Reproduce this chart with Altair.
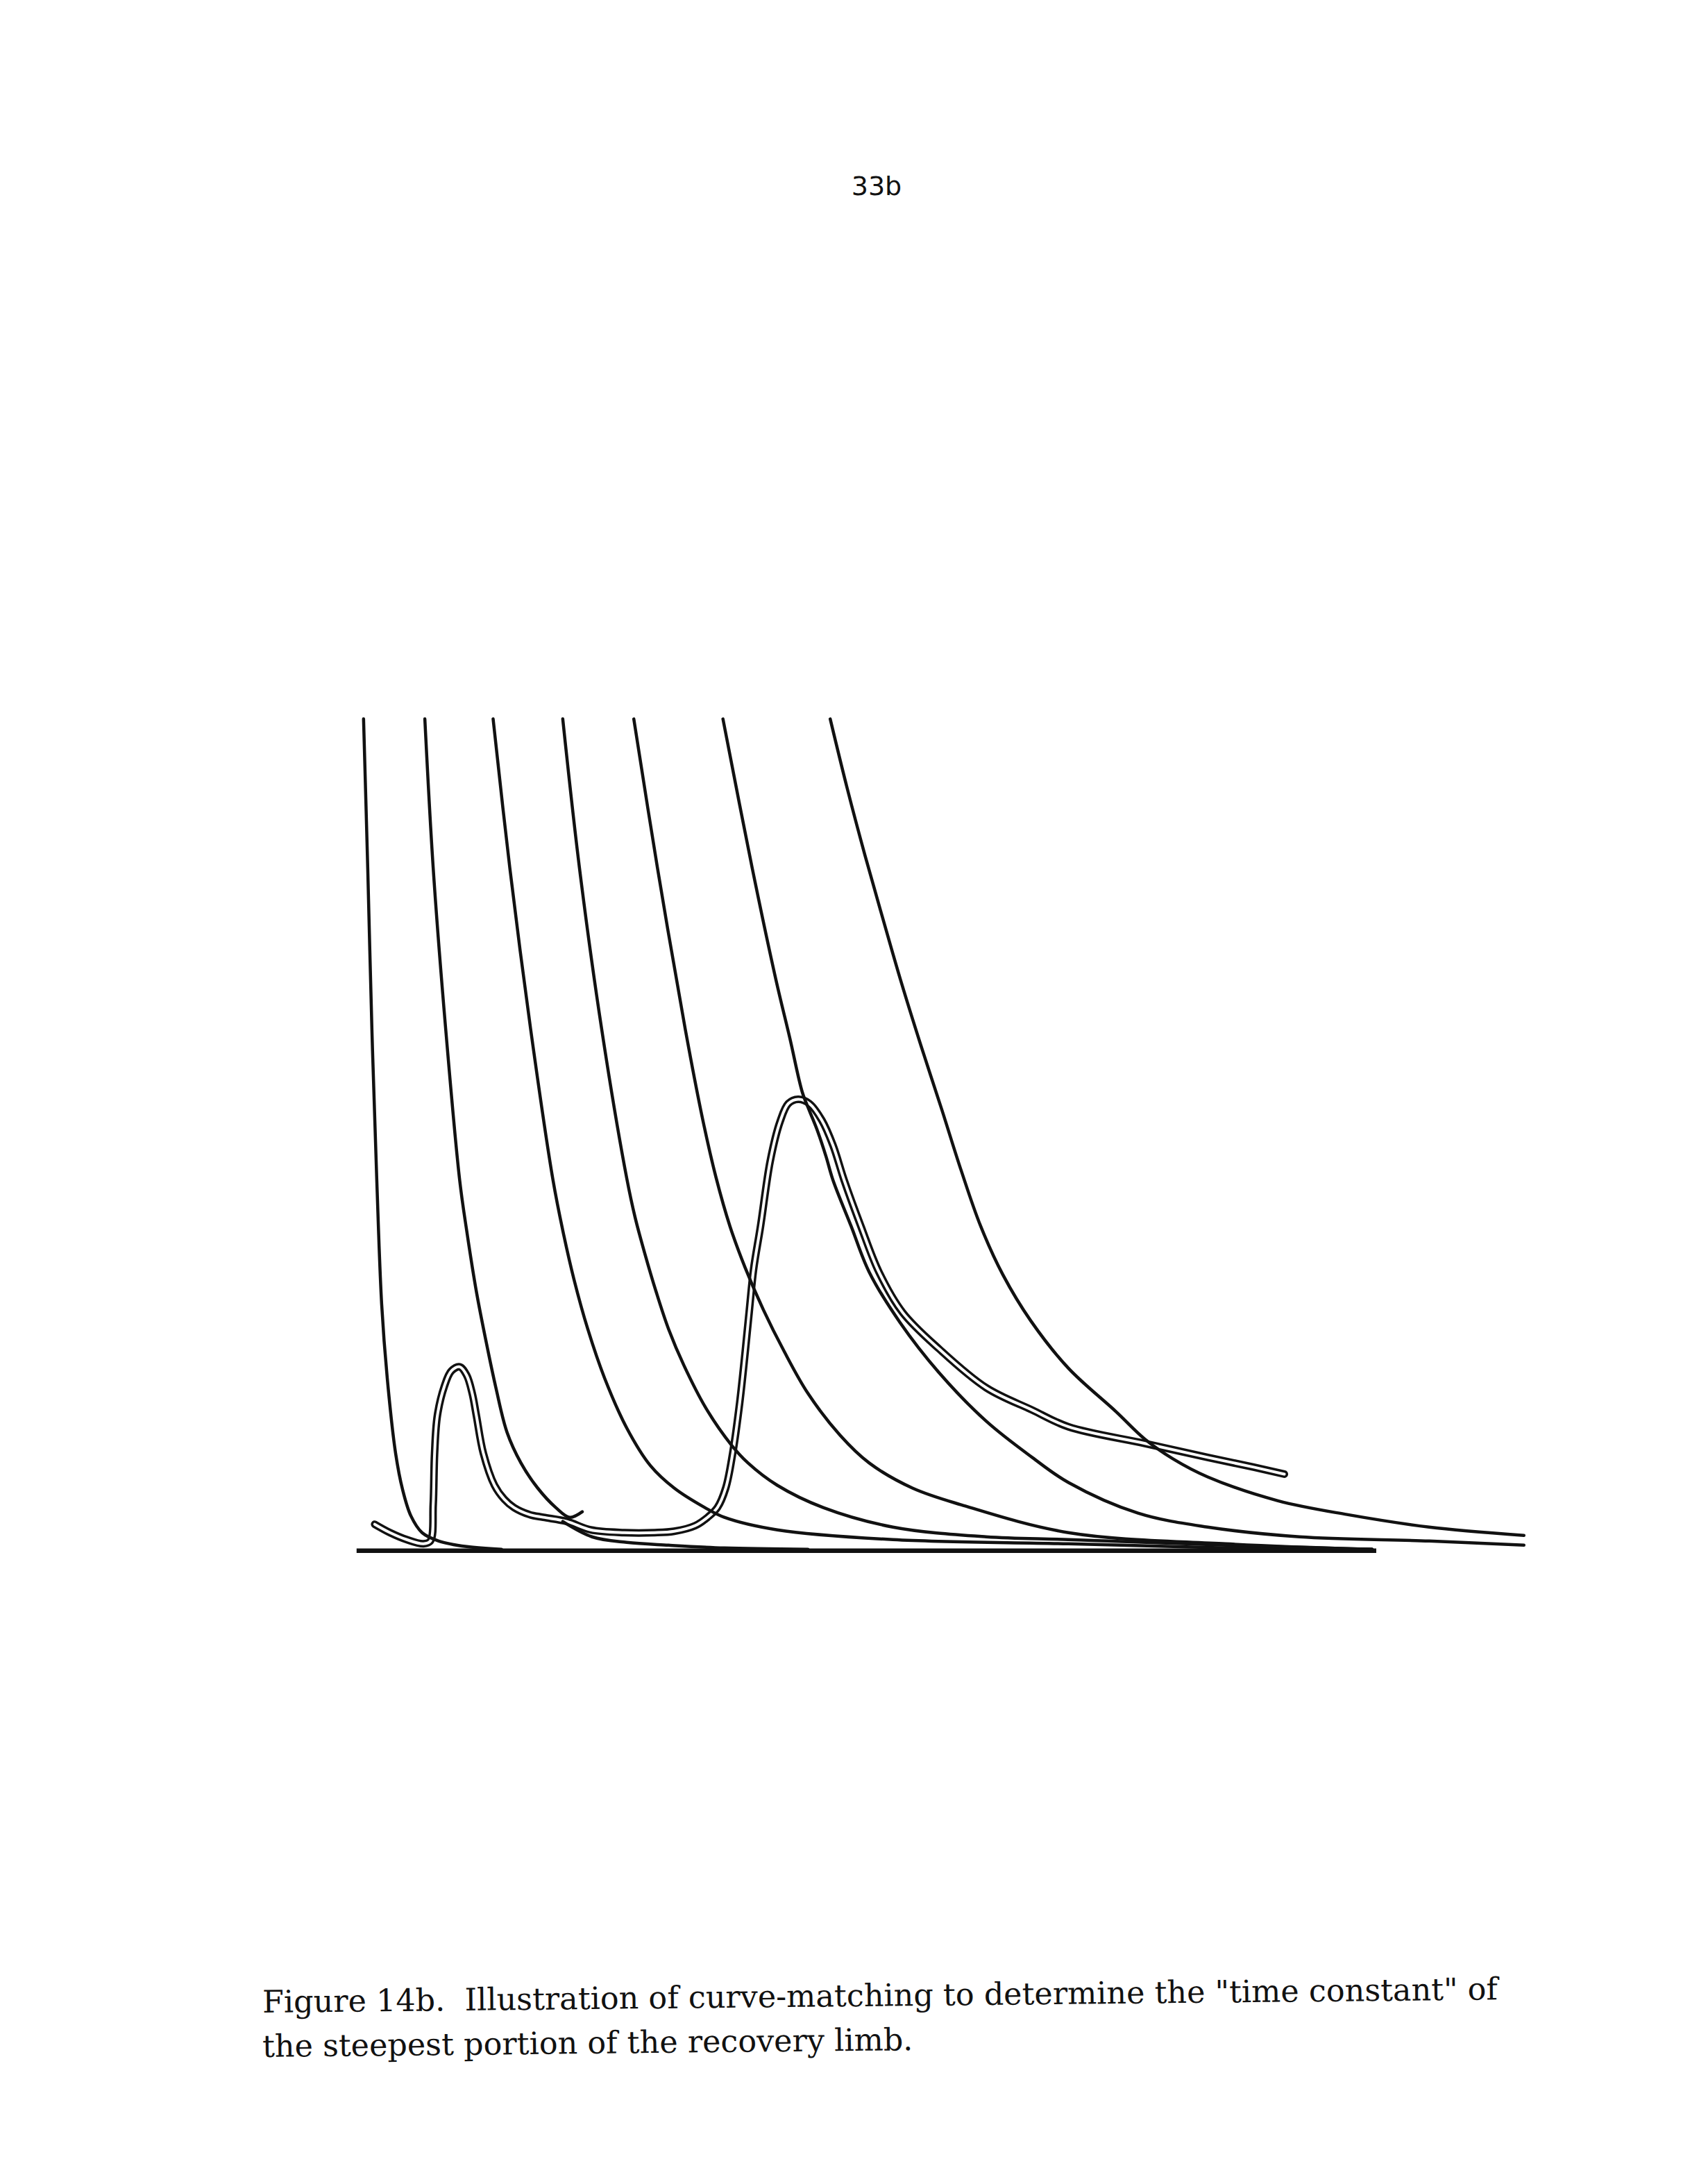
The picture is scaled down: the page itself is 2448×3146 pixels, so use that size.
import altair as alt
import pandas as pd

# ---- values: time (t) and discharge (q), arbitrary units ----
# seven matching recession curves
c1_t = [0.6, 0.9, 1.2, 1.55, 1.9, 2.3, 2.9, 3.4, 4.0, 4.8, 6.0, 8.0, 10.5]
c1_q = [59.7, 49.0, 37.4, 26.6, 17.7, 12.4, 7.0, 4.4, 2.5, 1.3, 0.7, 0.3, 0.1]

c2_t = [5.0, 5.6, 6.5, 7.5, 8.0, 8.7, 9.4, 10.1, 10.9, 11.9, 13.1, 14.4, 15.4, 16.3]
c2_q = [59.7, 49.0, 37.4, 26.6, 23.0, 18.6, 15.0, 11.7, 8.5, 6.3, 4.5, 3.1, 2.4, 2.8]

c2b_t = [14.9, 17.0, 19.5, 22.5, 26.5, 32.5]
c2b_q = [2.1, 1.0, 0.6, 0.4, 0.2, 0.1]

c3_t = [9.9, 11.1, 12.6, 14.2, 14.9, 15.7, 16.7, 17.9, 19.5, 21.2, 22.9, 25.1, 26.5, 30.3, 38.6, 51.2, 62.5, 73.0]
c3_q = [59.7, 49.0, 37.4, 26.6, 23.0, 19.5, 15.9, 12.4, 8.8, 6.1, 4.5, 3.1, 2.4, 1.5, 0.8, 0.5, 0.2, 0.1]

c4_t = [14.9, 16.1, 17.7, 19.5, 20.1, 20.8, 21.6, 22.5, 23.6, 25.2, 27.0, 28.2, 30.3, 33.6, 38.6, 45.3, 51.2, 62.5, 73.0]
c4_q = [59.7, 49.0, 37.4, 26.7, 23.9, 21.3, 18.6, 15.9, 13.3, 10.2, 7.6, 6.3, 4.7, 3.1, 1.7, 1.0, 0.8, 0.4, 0.1]

c5_t = [20.0, 21.7, 23.7, 25.0, 25.9, 26.9, 28.0, 29.3, 30.8, 32.5, 34.8, 36.9, 40.0, 43.5, 51.2, 62.5, 73.0]
c5_q = [59.7, 49.0, 37.4, 30.7, 26.8, 23.3, 20.3, 17.3, 14.3, 11.3, 8.3, 6.3, 4.5, 3.3, 1.3, 0.5, 0.1]

c6_t = [26.4, 28.5, 30.2, 31.2, 32.1, 32.6, 33.2, 33.8, 34.3, 35.6, 36.9, 39.1, 41.9, 45.3, 48.6, 51.2, 56.2, 61.2, 67.8, 77.1, 83.9]
c6_q = [59.7, 49.0, 41.0, 36.8, 32.9, 31.6, 30.1, 28.3, 26.6, 23.3, 20.0, 16.4, 12.8, 9.3, 6.7, 4.9, 2.7, 1.7, 1.0, 0.7, 0.4]

c7_t = [34.1, 35.3, 36.6, 37.9, 39.2, 40.6, 42.1, 43.5, 44.9, 46.5, 48.5, 51.2, 54.6, 56.7, 58.7, 61.2, 66.2, 71.2, 77.1, 83.9]
c7_q = [59.7, 54.8, 49.9, 45.3, 40.8, 36.3, 31.7, 27.3, 23.3, 19.8, 16.5, 13.1, 10.0, 8.0, 6.6, 5.3, 3.6, 2.6, 1.7, 1.1]

# observed hydrograph (traced as a double line)
h_t = [1.4, 2.5, 3.7, 4.9, 5.4, 5.6, 5.7, 5.9, 6.4, 6.9, 7.5, 8.0, 8.4, 8.7, 9.2,
       10.0, 10.7, 11.4, 12.5, 13.5, 15.2, 16.9, 19.3, 21.5, 22.9, 24.4, 25.3, 26.0,
       26.6, 27.1, 27.6, 28.0, 28.3, 28.6, 29.1, 29.8, 30.5, 31.1, 31.8, 32.6, 33.5,
       34.3, 35.1, 36.3, 37.6, 39.3, 41.9, 45.3, 48.6, 51.2, 56.7, 61.2, 64.5, 66.7]
h_q = [1.9, 1.3, 0.8, 0.5, 0.7, 3.3, 7.0, 9.7, 11.8, 12.9, 13.2, 12.6, 11.3, 9.7, 7.0,
       4.7, 3.7, 3.1, 2.6, 2.4, 2.1, 1.5, 1.3, 1.3, 1.4, 1.8, 2.4, 3.1,
       4.5, 7.0, 10.6, 14.3, 17.3, 20.2, 23.3, 28.0, 30.8, 32.1, 32.4, 32.1, 30.9,
       29.1, 26.6, 23.3, 20.0, 17.1, 14.5, 11.7, 10.1, 8.9, 7.7, 6.7, 6.0, 5.5]

# base line (zero discharge)
base_t = [0.1, 73.3]
base_q = [0.0, 0.0]

page_number = "33b"
caption_1 = 'Figure 14b.\u00a0 Illustration of curve-matching to determine the "time constant" of'
caption_2 = "the steepest portion of the recovery limb."

# ---- tables ----
curves = [("C1", c1_t, c1_q), ("C2", c2_t, c2_q), ("C2b", c2b_t, c2b_q),
          ("C3", c3_t, c3_q), ("C4", c4_t, c4_q), ("C5", c5_t, c5_q),
          ("C6", c6_t, c6_q), ("C7", c7_t, c7_q)]
rows = []
for name, ts, qs in curves:
    for i, (t, q) in enumerate(zip(ts, qs)):
        rows.append({"curve": name, "t": t, "q": q, "i": i})
rec = pd.DataFrame(rows)
hyd = pd.DataFrame({"t": h_t, "q": h_q, "i": list(range(len(h_t)))})
base = pd.DataFrame({"t": base_t, "q": base_q})

W, H = 2432, 3130
xsc = alt.Scale(domain=[-25.10, 96.07], nice=False, zero=False)
ysc = alt.Scale(domain=[-45.05, 110.90], nice=False, zero=False)
X = alt.X("t:Q", scale=xsc, axis=None)
Y = alt.Y("q:Q", scale=ysc, axis=None)
INK = "#111111"

base_layer = alt.Chart(base).mark_line(color=INK, strokeWidth=6.5).encode(X, Y)

hyd_outer = alt.Chart(hyd).mark_line(
    color=INK, strokeWidth=11, interpolate="catmull-rom", strokeCap="round", strokeJoin="round"
).encode(X, Y, order="i:Q")
hyd_inner = alt.Chart(hyd).mark_line(
    color="white", strokeWidth=4, interpolate="catmull-rom", strokeCap="round", strokeJoin="round"
).encode(X, Y, order="i:Q")

rec_layer = alt.Chart(rec).mark_line(
    color=INK, strokeWidth=4.5, interpolate="catmull-rom", strokeCap="round", strokeJoin="round"
).encode(X, Y, detail="curve:N", order="i:Q")

page_no = alt.Chart(pd.DataFrame({"s": [page_number]})).mark_text(
    font="DejaVu Sans", fontSize=38, color=INK, align="center", baseline="middle"
).encode(x=alt.value(1255), y=alt.value(262), text="s:N")

cap1 = alt.Chart(pd.DataFrame({"s": [caption_1]})).mark_text(
    font="DejaVu Serif", fontSize=44.5, color=INK, align="left", baseline="middle", angle=359.4
).encode(x=alt.value(370), y=alt.value(2878), text="s:N")

cap2 = alt.Chart(pd.DataFrame({"s": [caption_2]})).mark_text(
    font="DejaVu Serif", fontSize=44.5, color=INK, align="left", baseline="middle", angle=359.4
).encode(x=alt.value(370), y=alt.value(2942), text="s:N")

chart = alt.layer(
    base_layer, hyd_outer, hyd_inner, rec_layer, page_no, cap1, cap2
).properties(
    width=W, height=H,
    autosize=alt.AutoSizeParams(type="fit", contains="padding"),
    padding=0, background="white"
).configure_view(strokeWidth=0)

chart.save("out.html", embed_options={"renderer": "svg", "actions": False})
